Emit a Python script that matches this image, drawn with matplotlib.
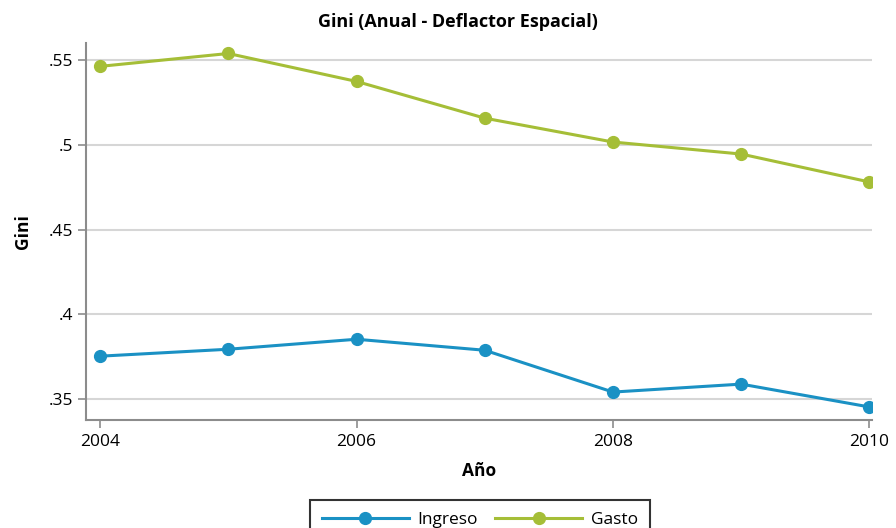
import matplotlib
matplotlib.use("Agg")
import matplotlib.pyplot as plt

years = [2004, 2005, 2006, 2007, 2008, 2009, 2010]
ingreso = [0.3753, 0.3794, 0.3853, 0.3788, 0.3541, 0.3588, 0.3453]
gasto = [0.5465, 0.5541, 0.5376, 0.5159, 0.5018, 0.4947, 0.4782]
yticks = [0.35, 0.40, 0.45, 0.50, 0.55]
ytick_labels = [".35", ".4", ".45", ".5", ".55"]
xticks = [2004, 2006, 2008, 2010]

plt.rcParams['font.family'] = ['Open Sans', 'DejaVu Sans']

fig = plt.figure(figsize=(8.96, 5.28), dpi=100)
ax = fig.add_axes([86/896, 1-420/528, (872-86)/896, (420-43)/528])

c_ing = '#1a91c4'
c_gas = '#a5be37'
ax.plot(years, ingreso, color=c_ing, lw=2.2, marker='o', ms=8.5, label='Ingreso', zorder=3)
ax.plot(years, gasto, color=c_gas, lw=2.2, marker='o', ms=8.5, label='Gasto', zorder=3)

ax.set_xlim(2003.89, 2010.02)
ax.set_ylim(0.3376, 0.5603)
ax.set_yticks(yticks)
ax.set_yticklabels(ytick_labels)
ax.set_xticks(xticks)
ax.yaxis.grid(True, color='#d6d6d6', lw=1.5)
ax.set_axisbelow(True)
for s in ['top', 'right']:
    ax.spines[s].set_visible(False)
for s in ['left', 'bottom']:
    ax.spines[s].set_color('#8c8c8c')
    ax.spines[s].set_linewidth(1.5)
ax.tick_params(axis='both', colors='#8c8c8c', length=6, width=1.2, labelcolor='black', labelsize=12.5)
ax.tick_params(axis='x', pad=4)

fig.text(458/896, 1-22/528, 'Gini (Anual - Deflactor Espacial)', fontsize=13,
         fontweight='bold', ha='center', va='center')
ax.set_xlabel('Año', fontsize=12.5, fontweight='bold', labelpad=9)
ax.set_ylabel('Gini', fontsize=12.5, fontweight='bold', labelpad=12)

leg = fig.legend(loc='upper center', bbox_to_anchor=(480/896, 1-500/528), ncol=2,
                 fontsize=12.5, handlelength=5.0, handletextpad=0.5, columnspacing=1.0,
                 fancybox=False, edgecolor='black', borderpad=0.7, borderaxespad=0)
leg.get_frame().set_linewidth(1.5)

fig.savefig('out.png', dpi=100)
